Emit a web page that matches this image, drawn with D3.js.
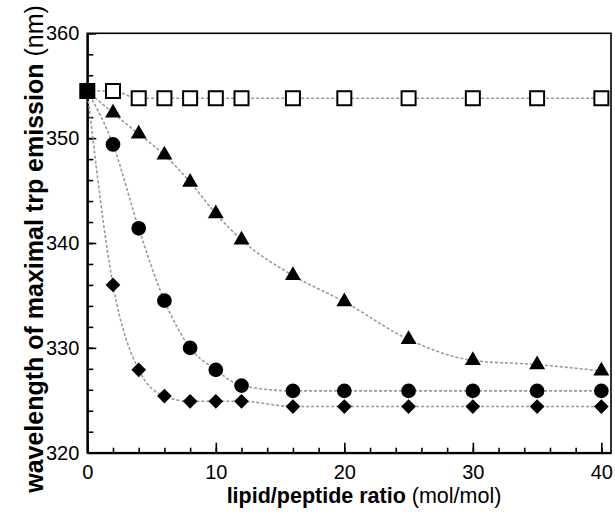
<!DOCTYPE html>
<html>
<head>
<meta charset="utf-8">
<script src="https://cdn.jsdelivr.net/npm/d3@7"></script>
<style>
    body { margin: 0; background: #fff; }
    svg { display: block; font-family: "Liberation Sans", Arial, sans-serif; }
    .axis path, .axis line { stroke: #000; }
    .axis text { font-size: 20px; fill: #000; }
</style>
</head>
<body>
<div id="chart"></div>
<script>
// lipid/peptide ratio (mol/mol)
var ratio = [0, 2, 4, 6, 8, 10, 12, 16, 20, 25, 30, 35, 40];

// wavelength of maximal trp emission (nm), one array per peptide
var squares   = [354.5, 354.5, 353.8, 353.8, 353.8, 353.8, 353.8, 353.8, 353.8, 353.8, 353.8, 353.8, 353.8];
var triangles = [354.5, 352.4, 350.4, 348.4, 345.8, 342.8, 340.3, 336.9, 334.4, 330.8, 328.8, 328.4, 327.8];
var circles   = [354.5, 349.4, 341.4, 334.5, 330.0, 327.9, 326.4, 325.9, 325.9, 325.9, 325.9, 325.9, 325.9];
var diamonds  = [354.5, 336.0, 327.9, 325.4, 324.9, 324.9, 324.9, 324.4, 324.4, 324.4, 324.4, 324.4, 324.4];

var xMajorTicks = [0, 10, 20, 30, 40];
var yMajorTicks = [320, 330, 340, 350, 360];

var WIDTH = 615, HEIGHT = 514;
var LEFT = 87.3, RIGHT = 611, TOP = 33.3, BOTTOM = 452.7;

var x = d3.scaleLinear().domain([0, 40.75]).range([LEFT, RIGHT]);
var y = d3.scaleLinear().domain([320, 360]).range([BOTTOM, TOP]);

var svg = d3.select("#chart").append("svg")
    .attr("width", WIDTH)
    .attr("height", HEIGHT);

// frame (top and right sides)
svg.append("rect")
    .attr("x", LEFT).attr("y", TOP)
    .attr("width", RIGHT - LEFT).attr("height", BOTTOM - TOP)
    .attr("fill", "none")
    .attr("stroke", "#000")
    .attr("stroke-width", 1.6);

function range2(a, b) {
    return d3.range(a, b + 0.001, 2);
}

// minor ticks first, then the major ones with labels
svg.append("g").attr("class", "axis")
    .attr("transform", "translate(0," + BOTTOM + ")")
    .call(d3.axisBottom(x).tickValues(range2(0, 40)).tickSize(-5).tickSizeOuter(0).tickFormat(""))
    .call(function (g) { g.select(".domain").remove(); })
    .selectAll("line").attr("stroke-width", 1.6);

svg.append("g").attr("class", "axis")
    .attr("transform", "translate(" + LEFT + ",0)")
    .call(d3.axisLeft(y).tickValues(range2(320, 360)).tickSize(-6).tickSizeOuter(0).tickFormat(""))
    .call(function (g) { g.select(".domain").remove(); })
    .selectAll("line").attr("stroke-width", 1.6);

var xAxis = svg.append("g").attr("class", "axis")
    .attr("transform", "translate(0," + BOTTOM + ")")
    .call(d3.axisBottom(x).tickValues(xMajorTicks).tickSize(-10).tickSizeOuter(0).tickPadding(12));
xAxis.select(".domain").attr("stroke-width", 2.2);
xAxis.selectAll("line").attr("stroke-width", 1.6);

var yAxis = svg.append("g").attr("class", "axis")
    .attr("transform", "translate(" + LEFT + ",0)")
    .call(d3.axisLeft(y).tickValues(yMajorTicks).tickSize(-9).tickSizeOuter(0).tickPadding(8));
yAxis.select(".domain").attr("stroke-width", 2.2);
yAxis.selectAll("line").attr("stroke-width", 1.6);

var series = [
    { values: squares,   symbol: d3.symbolSquare,   size: 196, fill: "#fff", rotate: 0 },
    { values: triangles, symbol: d3.symbolTriangle, size: 110, fill: "#000", rotate: 0 },
    { values: circles,   symbol: d3.symbolCircle,   size: 170, fill: "#000", rotate: 0 },
    { values: diamonds,  symbol: d3.symbolSquare,   size: 108, fill: "#000", rotate: 45 }
];

var line = d3.line()
    .x(function (d, i) { return x(ratio[i]); })
    .y(function (d) { return y(d); })
    .curve(d3.curveMonotoneX);

var body = svg.append("g").attr("class", "chart-body");

body.selectAll("path.line")
    .data(series)
    .enter().append("path")
    .attr("class", "line")
    .attr("d", function (s) { return line(s.values); })
    .attr("fill", "none")
    .attr("stroke", "#9a9a9a")
    .attr("stroke-width", 1.6)
    .attr("stroke-dasharray", "3,2");

var groups = body.selectAll("g.series")
    .data(series)
    .enter().append("g")
    .attr("class", "series");

groups.selectAll("path.mark")
    .data(function (s) {
        return s.values.map(function (v, i) { return { x: ratio[i], y: v, s: s }; });
    })
    .enter().append("path")
    .attr("class", "mark")
    .attr("transform", function (d) {
        return "translate(" + x(d.x) + "," + y(d.y) + ") rotate(" + d.s.rotate + ")";
    })
    .attr("d", function (d) { return d3.symbol().type(d.s.symbol).size(d.s.size)(); })
    // at ratio 0 all four markers overlap, so the open square looks filled there
    .attr("fill", function (d) { return d.x === 0 ? "#000" : d.s.fill; })
    .attr("stroke", function (d) { return d.s.fill === "#fff" ? "#000" : "none"; })
    .attr("stroke-width", 2);

// axis titles
var xTitle = svg.append("text")
    .attr("x", 364)
    .attr("y", 503)
    .attr("text-anchor", "middle")
    .style("font-size", "21.5px");
xTitle.append("tspan").style("font-weight", "bold").text("lipid/peptide ratio ");
xTitle.append("tspan").text("(mol/mol)");

var yTitle = svg.append("text")
    .attr("transform", "translate(43,249) rotate(-90)")
    .attr("text-anchor", "middle")
    .style("font-size", "25px");
yTitle.append("tspan").style("font-weight", "bold").text("wavelength of maximal trp emission ");
yTitle.append("tspan").text("(nm)");
</script>
</body>
</html>
